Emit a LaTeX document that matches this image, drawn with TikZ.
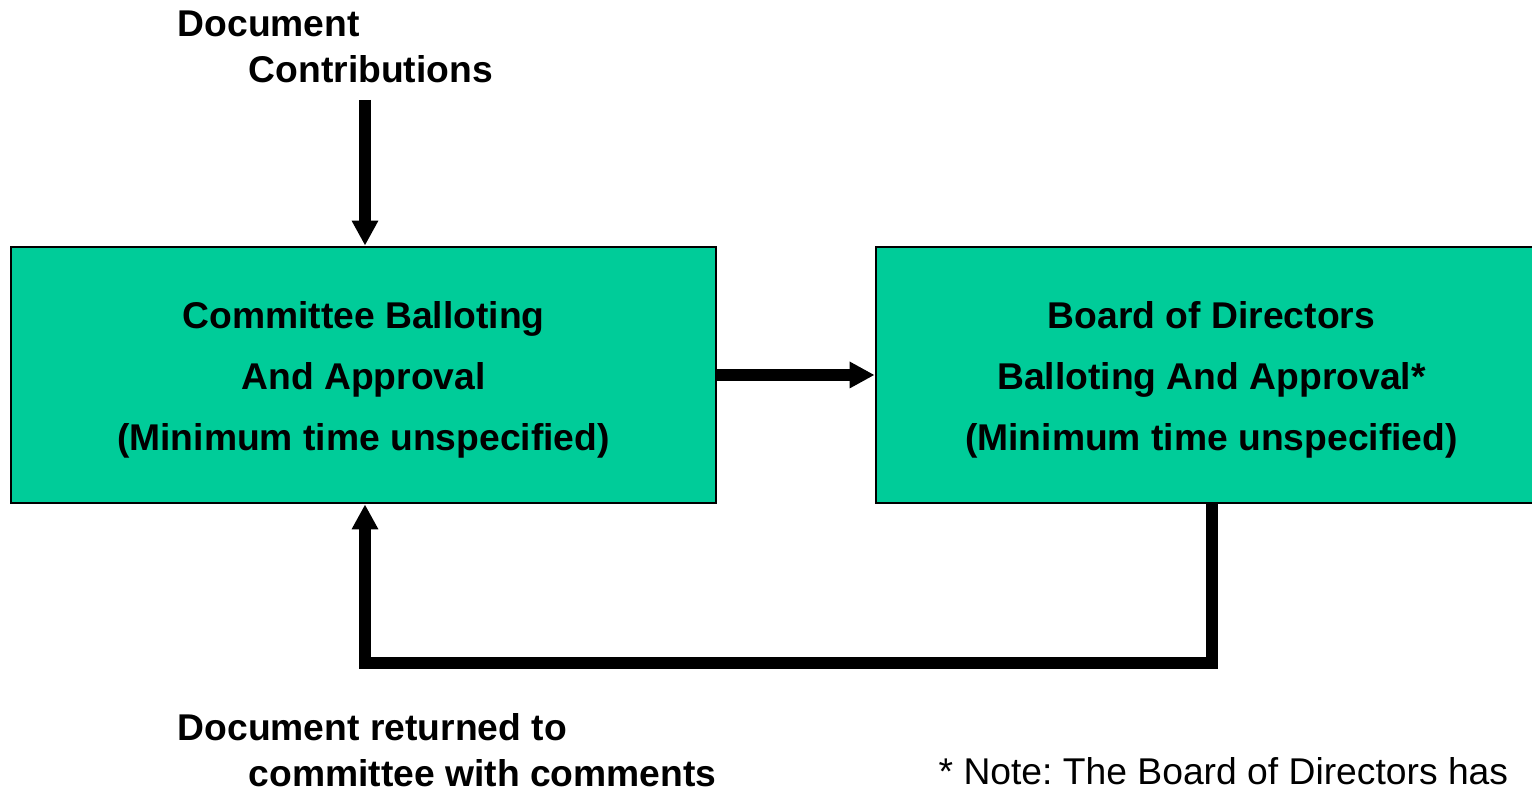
\documentclass[tikz,border=0pt]{standalone}
\usepackage{fontspec}
\setmainfont{Liberation Sans}
\usetikzlibrary{arrows.meta}
\definecolor{boxgreen}{HTML}{00CC99}
\frenchspacing
\tikzset{
  stage/.style={draw=black,line width=0.8pt,fill=boxgreen,minimum height=2.56cm,
    align=center,font=\bfseries\fontsize{10.6}{17.4}\selectfont},
  flow/.style={line width=0.12cm,line join=miter,-{Triangle[length=0.25cm,width=0.25cm]}},
  caption/.style={anchor=base west,inner sep=0pt,align=left,font=\bfseries\fontsize{10.6}{13.1}\selectfont}
}
\begin{document}
\begin{tikzpicture}
\useasboundingbox (0,0) rectangle (15.32,7.92);

\node[stage,minimum width=7.05cm] (committee) at (3.635,4.17)
  {\rule{0pt}{10.6pt}Committee Balloting\\And Approval\\(Minimum time unspecified)};
\node[stage,minimum width=6.71cm] (board) at (12.115,4.17)
  {\rule{0pt}{10.6pt}Board of Directors\\Balloting And Approval*\\(Minimum time unspecified)};

% base = baseline of the last line
\node[caption] (contrib) at (1.77,7.09) {Document\\\hspace*{0.71cm}Contributions};
\node[caption] (returned) at (1.77,0.05) {Document returned to\\\hspace*{0.71cm}committee with comments};
\node[anchor=base west,inner sep=0pt,font=\fontsize{10.6}{13.1}\selectfont] (note) at (9.38,0.07)
  {* Note: The Board of Directors has};

\coordinate (top) at (3.65,6.92);
\coordinate (loop) at (12.12,1.29);

\draw[flow] (top) -- (committee.north -| top);
\draw[flow] (committee) -- (board);
\draw[flow] (board.south -| loop) -- (loop) -- (loop -| top) -- (committee.south -| top);
\end{tikzpicture}
\end{document}
